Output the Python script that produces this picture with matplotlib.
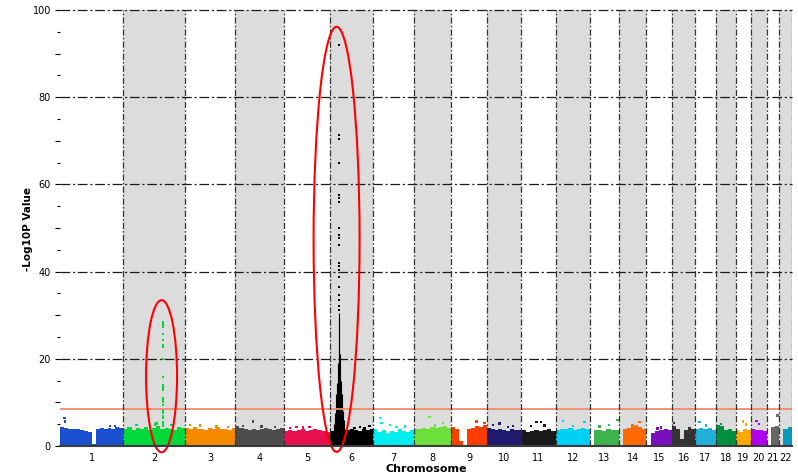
import numpy as np
import matplotlib
matplotlib.use("Agg")
import matplotlib.pyplot as plt
from matplotlib.patches import Ellipse
from matplotlib.ticker import MultipleLocator, FuncFormatter

plt.rcParams['font.family'] = 'DejaVu Sans'
plt.rcParams['lines.scale_dashes'] = False

# chromosome sizes (Mb) and colours
chrom_names = [str(i) for i in range(1, 23)]
chrom_len = [249.3, 243.2, 198.0, 191.2, 180.9, 171.1, 159.1, 146.4, 141.2, 135.5, 135.0,
             133.9, 115.2, 107.3, 102.5, 90.4, 81.2, 78.1, 59.1, 63.0, 48.1, 51.3]
chrom_colors = ['#1a4fd0', '#00d93a', '#f58a00', '#4d4d4d', '#e8104f', '#000000', '#00eef0',
                '#6ee03c', '#ff3d00', '#1f1a6e', '#1a1a1a', '#00d0f5', '#3cb44b', '#ff6a00',
                '#7a0fbf', '#333333', '#22b0d8', '#009040', '#f8aa00', '#b000f0', '#666666',
                '#0a9ab8']

# dense background of -log10 p per chromosome (top of the point cloud, evenly spaced bins)
env_chr1 = [4.4, 4.2, 4.0, 3.9, 4.0, 3.7, 3.4, 3.3, 0.4, 4.0, 4.2, 3.9, 4.2, 4.0, 4.3, 4.2]
env_chr2 = [4.0, 4.3, 3.7, 4.1, 3.9, 4.4, 3.6, 4.2, 4.5, 3.8, 4.2, 4.0, 3.7, 4.3, 4.1]
env_chr3 = [4.2, 3.9, 4.4, 3.8, 4.0, 3.7, 4.1, 3.9, 4.3, 3.8, 4.0, 3.6, 4.2]
env_chr4 = [4.6, 4.2, 3.8, 3.6, 4.0, 3.7, 3.9, 4.1, 3.8, 3.7, 4.0, 4.2]
env_chr5 = [3.5, 3.7, 3.4, 3.6, 3.8, 3.5, 3.7, 3.9, 3.6, 3.4, 3.2]
env_chr6 = [3.5, 3.6, 3.8, 3.7, 3.6, 3.9, 3.7, 3.5, 3.8, 3.6, 3.9]
env_chr7 = [3.9, 3.3, 3.7, 3.0, 3.5, 3.2, 3.8, 3.4, 3.1, 3.6]
env_chr8 = [4.0, 3.8, 4.2, 3.9, 4.3, 4.1, 4.4, 4.6, 4.2]
env_chr9 = [4.3, 4.0, 1.2, 0.2, 3.8, 4.2, 4.6, 4.4, 4.8]
env_chr10 = [4.2, 3.8, 3.6, 3.9, 3.7, 3.5, 3.8, 3.6, 3.7]
env_chr11 = [3.6, 3.3, 3.5, 3.7, 3.4, 3.6, 3.8, 3.5]
env_chr12 = [3.7, 4.0, 3.8, 4.1, 3.6, 3.9, 4.2, 3.8]
env_chr13 = [0.0, 3.6, 3.7, 3.5, 3.8, 3.6, 3.7]
env_chr14 = [0.3, 3.8, 4.2, 4.5, 4.8, 4.3, 3.9]
env_chr15 = [0.3, 3.0, 3.5, 3.7, 3.8, 3.6]
env_chr16 = [4.6, 3.8, 1.5, 3.6, 4.3, 4.0]
env_chr17 = [4.0, 4.2, 3.8, 4.1, 3.7]
env_chr18 = [4.8, 4.5, 3.6, 3.8, 3.5]
env_chr19 = [3.7, 3.3, 3.8, 3.6]
env_chr20 = [3.8, 3.6, 3.7, 3.5]
env_chr21 = [0.3, 4.3, 4.6]
env_chr22 = [0.3, 4.0, 4.4]
envelopes = [env_chr1, env_chr2, env_chr3, env_chr4, env_chr5, env_chr6, env_chr7, env_chr8,
             env_chr9, env_chr10, env_chr11, env_chr12, env_chr13, env_chr14, env_chr15,
             env_chr16, env_chr17, env_chr18, env_chr19, env_chr20, env_chr21, env_chr22]

# isolated points sitting above the background (chromosome, Mb, -log10 p)
dot_chrom = [1, 1, 1, 1, 2, 2, 2, 2, 3, 3, 3, 3, 4, 4, 4, 4, 5, 5, 5, 5, 6, 6, 6, 6,
             7, 7, 7, 7, 7, 8, 8, 8, 9, 9, 10, 10, 10, 10, 11, 11, 11, 11, 12, 12, 12,
             13, 13, 13, 14, 14, 15, 15, 16, 17, 17, 18, 19, 19, 20, 20, 21]
dot_pos = [17, 20, 196, 216, 52, 124, 131, 190, 19, 58, 124, 168, 30, 70, 103, 155,
           23, 49, 75, 101, 97, 117, 136, 156, 25, 31, 64, 90, 123, 62, 82, 114, 100, 132,
           24, 50, 83, 103, 39, 59, 78, 91, 28, 67, 113, 38, 77, 110, 54, 81, 45, 58, 6,
           17, 43, 20, 29, 40, 22, 33, 42]
dot_val = [6.4, 5.6, 4.6, 4.6, 4.8, 4.9, 5.2, 4.8, 4.8, 4.7, 4.5, 4.4, 4.6, 5.6, 4.5, 4.4,
           4.1, 4.3, 4.2, 4.3, 4.1, 4.3, 4.0, 4.6, 6.4, 5.3, 4.8, 4.4, 4.5, 6.6, 4.7, 5.3,
           5.6, 5.3, 4.8, 5.2, 4.3, 4.6, 4.6, 5.5, 5.5, 4.7, 5.8, 4.6, 5.5, 4.5, 4.8, 5.9,
           4.8, 5.5, 4.0, 4.2, 5.3, 5.5, 4.7, 5.0, 5.6, 4.9, 5.8, 5.0, 7.0]

# chromosome 2 association signal
chr2_peak_pos = 157.4
chr2_peak_vals = [28.4, 28.1, 27.8, 27.4, 25.6, 24.3, 23.2, 22.8, 20.0, 15.8, 14.0, 13.6,
                  13.2, 12.8, 10.9, 10.5, 10.2, 9.4, 8.3, 8.0, 7.5, 6.9, 6.4, 5.6, 5.0, 4.6]

# chromosome 6 (HLA) association signal: sparse top hits and the dense column below
chr6_peak_pos = 36.0
chr6_peak_vals = [92.0, 71.3, 70.4, 64.9, 57.6, 56.8, 56.0, 50.0, 48.4, 47.7, 46.1, 42.0,
                  41.2, 40.4, 38.8, 36.5, 34.6, 33.5, 32.0, 31.2]
chr6_col_pos = [14, 18, 22, 26, 30, 34, 37, 41, 45, 49, 53, 57]
chr6_col_top = [5.0, 7.5, 12.0, 14.5, 19.0, 30.5, 29.0, 21.0, 15.0, 12.0, 8.0, 6.0]

threshold = 8.5

offsets = np.concatenate([[0], np.cumsum(chrom_len)[:-1]])
total = float(np.sum(chrom_len))
mids = offsets + np.array(chrom_len) / 2

fig = plt.figure(figsize=(7.98, 4.74), dpi=100)
ax = fig.add_axes([60 / 798, 1 - 446 / 474, 732 / 798, 436 / 474])
ax.set_xlim(0, total)
ax.set_ylim(0, 100)

# alternating grey bands with dashed borders
for i, (off, ln) in enumerate(zip(offsets, chrom_len)):
    if (i + 1) % 2 == 0:
        ax.axvspan(off, off + ln, color='#dcdcdc', lw=0, zorder=0)
        for xb in (off, off + ln):
            ax.axvline(xb, color='#333333', lw=0.9, ls=(0, (4.5, 1.5, 1.2, 1.5)), zorder=4)

for yv in range(20, 101, 20):
    ax.axhline(yv, color='#1a1a1a', lw=0.9, ls=(0, (7, 2, 1.5, 2)), zorder=1, clip_on=False)

# background cloud
for i, env in enumerate(envelopes):
    edges = np.linspace(offsets[i], offsets[i] + chrom_len[i], len(env) + 1)
    ax.fill_between(edges, np.append(env, env[-1]), step='post', color=chrom_colors[i],
                    lw=0, zorder=2)

dx = [offsets[c - 1] + p for c, p in zip(dot_chrom, dot_pos)]
dc = [chrom_colors[c - 1] for c in dot_chrom]
ax.scatter(dx, dot_val, s=3, marker='s', c=dc, linewidths=0, zorder=2)

# peaks
ax.scatter(np.full(len(chr2_peak_vals), offsets[1] + chr2_peak_pos), chr2_peak_vals,
           s=4, marker='s', color=chrom_colors[1], linewidths=0, zorder=2)
ax.vlines(offsets[5] + np.array(chr6_col_pos), 0, chr6_col_top, color=chrom_colors[5],
          lw=0.8, zorder=2)
ax.scatter(np.full(len(chr6_peak_vals), offsets[5] + chr6_peak_pos), chr6_peak_vals,
           s=4, marker='s', color=chrom_colors[5], linewidths=0, zorder=2)

ax.axhline(threshold, color='#f4896b', lw=1.3, zorder=3)

# highlighted loci
ax.add_patch(Ellipse((offsets[1] + chr2_peak_pos - 7, 16.0), 122, 34.9, fill=False,
                     edgecolor='#ff0000', lw=1.5, zorder=5, clip_on=False))
ax.add_patch(Ellipse((offsets[5] + chr6_peak_pos - 10, 47.4), 181, 97.5, fill=False,
                     edgecolor='#ff0000', lw=1.5, zorder=5, clip_on=False))

for s in ('top', 'right', 'left'):
    ax.spines[s].set_visible(False)
ax.spines['bottom'].set_color('#3a3a3a')
ax.spines['bottom'].set_linewidth(1.5)
ax.spines['bottom'].set_zorder(6)

ax.set_xticks(mids)
ax.set_xticklabels(chrom_names, fontsize=7)
ax.tick_params(axis='x', length=0, pad=5)

ax.yaxis.set_major_locator(MultipleLocator(10))
ax.yaxis.set_minor_locator(MultipleLocator(5))
ax.yaxis.set_major_formatter(FuncFormatter(lambda v, p: f"{int(v)}" if int(v) % 20 == 0 else ""))
ax.tick_params(axis='y', which='major', length=3.6, width=0.8, labelsize=7, pad=3)
ax.tick_params(axis='y', which='minor', length=2.0, width=0.8)

# the reference crops this label at the bottom edge; kept just inside so it stays readable
fig.text(426 / 798, 1 - 464 / 474, 'Chromosome', ha='center', va='top', fontsize=8,
         fontweight='bold')
fig.text(28 / 798, 1 - 229 / 474, '-Log10P Value', rotation=90, ha='center', va='center',
         fontsize=7.5, fontweight='bold')

fig.savefig('out.png', dpi=100)
